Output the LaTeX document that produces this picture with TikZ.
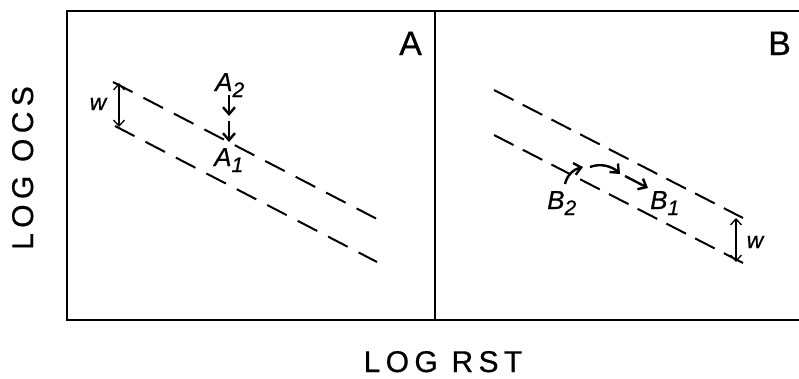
\documentclass[tikz,border=0pt]{standalone}
\usepackage{fontspec}
\setmainfont{Liberation Sans}
\newfontfamily\axfont[LetterSpace=18,FakeBold=0.6]{Liberation Sans}
\newfontfamily\panfont[FakeBold=0.6]{Liberation Sans}
\newfontfamily\itfont[FakeBold=0.6]{Liberation Sans Italic}
\usetikzlibrary{arrows.meta}
\newcommand{\sublab}[2]{{\fontsize{26}{26}\selectfont\itfont #1\raisebox{-6pt}{\fontsize{21}{21}\selectfont #2}}}
\tikzset{
  frame/.style={line width=2pt},
  dlineA/.style={line width=2pt, dash pattern=on 22pt off 12.3pt},
  dlineB/.style={line width=2pt, dash pattern=on 22pt off 10.3pt},
  warrow/.style={line width=1.3pt, {Straight Barb[length=6pt,width=11pt,line width=1.3pt]}-{Straight Barb[length=6pt,width=11pt,line width=1.3pt]}},
  marrow/.style={line width=2.4pt, -{Straight Barb[length=7pt,width=12pt,line width=2.4pt]}},
  axlab/.style={inner sep=0pt, font=\fontsize{30}{30}\selectfont\axfont},
  panlab/.style={inner sep=0pt, anchor=base west, font=\fontsize{34}{34}\selectfont\panfont},
  itlab/.style={inner sep=0pt, anchor=base west},
  wlab/.style={inner sep=0pt, anchor=base, font=\fontsize{23}{23}\selectfont\itfont}
}
\begin{document}
\begin{tikzpicture}[x=1pt,y=-1pt]
\useasboundingbox (0,0) rectangle (799,378);
% frame
\coordinate (tl) at (67,11);
\coordinate (bl) at (67,320);
\coordinate (tr) at (799,11);
\coordinate (br) at (799,320);
\coordinate (mt) at (435,11);
\coordinate (mb) at (435,320);
\draw[frame] (tr) -- (tl) -- (bl) -- (br);
\draw[frame] (mt) -- (mb);
% axis labels
\node[axlab, anchor=base, rotate=90] (ylab) at (33,168) {LOG OCS};
\node[axlab, anchor=base] (xlab) at (443,372) {LOG RST};
% panel labels
\node[panlab] (pA) at (399,55) {A};
\node[panlab] (pB) at (768,55) {B};
% panel A lines
\coordinate (a1s) at (113,82);
\coordinate (a1e) at (377,219);
\coordinate (a2s) at (115,126);
\coordinate (a2e) at (377,262);
\draw[dlineA] (a1s) -- (a1e);
\draw[dlineA] (a2s) -- (a2e);
\coordinate (awt) at (119,83);
\coordinate (awb) at (119,127);
\draw[warrow] (awt) -- (awb);
\node[wlab] (wA) at (98,110) {w};
\node[itlab] (A2) at (215,91) {\sublab{A}{2}};
\node[itlab] (A1) at (214,166) {\sublab{A}{1}};
\coordinate (aa1s) at (229,95);
\coordinate (aa1e) at (229,116);
\coordinate (aa2s) at (229,121);
\coordinate (aa2e) at (229,142);
\draw[marrow] (aa1s) -- (aa1e);
\draw[marrow] (aa2s) -- (aa2e);
% panel B lines
\coordinate (b1s) at (494,90);
\coordinate (b1e) at (743,218);
\coordinate (b2s) at (494,135);
\coordinate (b2e) at (743,263);
\draw[dlineB] (b1s) -- (b1e);
\draw[dlineB] (b2s) -- (b2e);
\coordinate (bwt) at (736,218);
\coordinate (bwb) at (736,262);
\draw[warrow] (bwt) -- (bwb);
\node[wlab] (wB) at (755,248) {w};
\node[itlab] (B2) at (547,209) {\sublab{B}{2}};
\node[itlab] (B1) at (650,209) {\sublab{B}{1}};
\coordinate (c1s) at (565,184);
\coordinate (c1e) at (583,167);
\coordinate (c2s) at (590,167);
\coordinate (c2e) at (620,174);
\coordinate (c3s) at (625,176);
\coordinate (c3e) at (648,188);
\draw[marrow] (c1s) .. controls (567,175) and (574,169) .. (c1e);
\draw[marrow] (c2s) .. controls (600,163) and (612,166) .. (c2e);
\draw[marrow] (c3s) -- (c3e);
\end{tikzpicture}
\end{document}
